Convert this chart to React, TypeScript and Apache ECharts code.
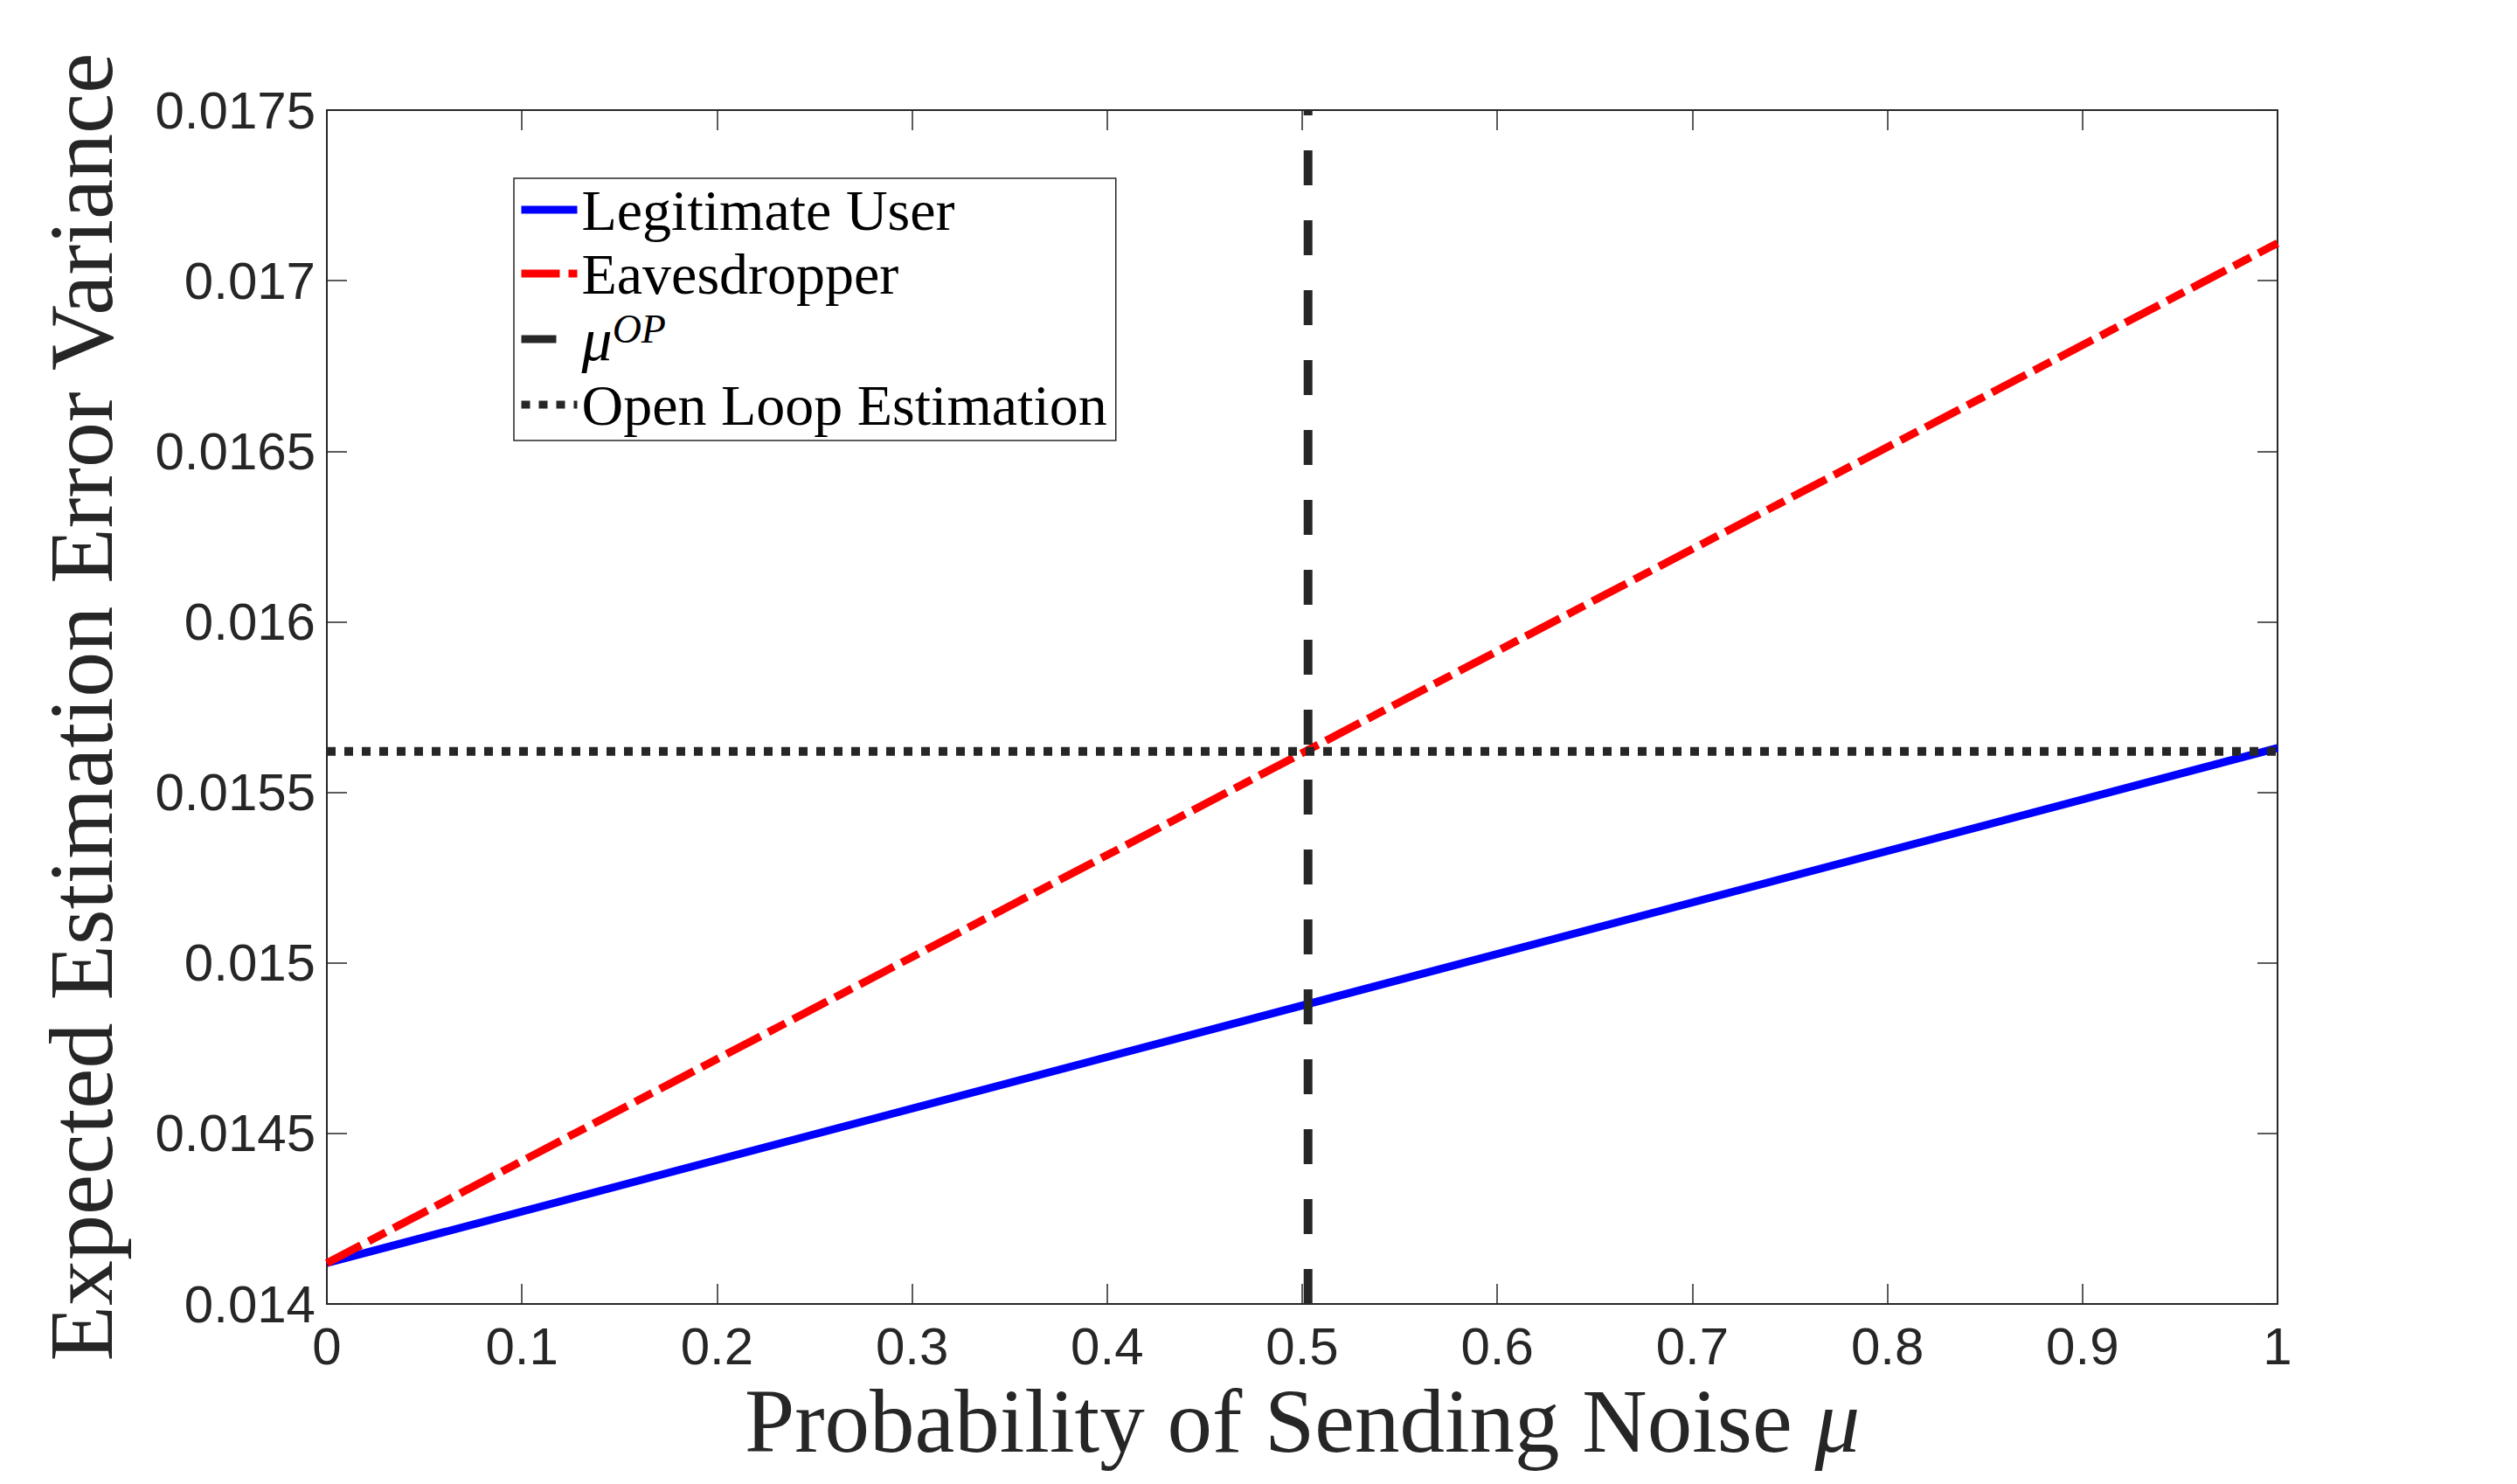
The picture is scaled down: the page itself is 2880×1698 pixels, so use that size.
import React, { useEffect, useRef } from "react";
import * as echarts from "echarts";

const xEnds = [0, 1];
const legitimateUser = [0.01412, 0.01563];
const eavesdropper = [0.01412, 0.01711];
const muOP = 0.503;
const openLoop = 0.01562;
const yRange = [0.014, 0.0175];
const xRange = [0, 1];

const DARK = "#262626";
const SERIF = "'Liberation Serif', 'Times New Roman', serif";
const SANS = "'Liberation Sans', Arial, Helvetica, sans-serif";

export default function App() {
  const ref = useRef<HTMLDivElement>(null);
  useEffect(() => {
    if (!ref.current) return;
    const chart = echarts.init(ref.current, undefined, { renderer: "svg" });
    const axisCommon = {
      type: "value" as const,
      axisLine: { show: true, onZero: false, lineStyle: { color: DARK, width: 2 } },
      axisTick: { show: true, inside: true, length: 23, lineStyle: { color: DARK, width: 1.5 } },
      splitLine: { show: false },
    };
    chart.setOption({
      animation: false,
      backgroundColor: "#ffffff",
      grid: { left: 374, right: 274, top: 126, bottom: 206, containLabel: false },
      xAxis: [
        {
          ...axisCommon,
          min: xRange[0],
          max: xRange[1],
          interval: 0.1,
          position: "bottom",
          axisLabel: { color: DARK, fontFamily: SANS, fontSize: 60, margin: 18 },
          name: "{t|Probability of Sending Noise }{m|μ}",
          nameLocation: "middle",
          nameGap: 76,
          nameTextStyle: {
            color: DARK,
            rich: {
              t: { fontFamily: SERIF, fontSize: 103, color: DARK },
              m: { fontFamily: SERIF, fontSize: 103, fontStyle: "italic", color: DARK },
            },
          },
        },
        {
          ...axisCommon,
          min: xRange[0],
          max: xRange[1],
          interval: 0.1,
          position: "top",
          axisLabel: { show: false },
        },
      ],
      yAxis: [
        {
          ...axisCommon,
          min: yRange[0],
          max: yRange[1],
          interval: 0.0005,
          position: "left",
          axisLabel: { color: DARK, fontFamily: SANS, fontSize: 60, margin: 13 },
          name: "Expected Estimation Error Variance",
          nameLocation: "middle",
          nameRotate: 90,
          nameGap: 230,
          nameTextStyle: { color: DARK, fontFamily: SERIF, fontSize: 104 },
        },
        {
          ...axisCommon,
          min: yRange[0],
          max: yRange[1],
          interval: 0.0005,
          position: "right",
          axisLabel: { show: false },
        },
      ],
      legend: {
        orient: "vertical",
        left: 588,
        top: 204,
        itemWidth: 64,
        itemHeight: 14,
        itemGap: 7,
        padding: [3, 10, 8, 4],
        backgroundColor: "#ffffff",
        borderColor: DARK,
        borderWidth: 1.5,
        lineStyle: { width: 9 },
        itemStyle: { opacity: 0 },
        data: ["Legitimate User", "Eavesdropper", "muOP", "Open Loop Estimation"],
        formatter: (name: string) => (name === "muOP" ? "{mu|μ}{sup|OP}" : name),
        textStyle: {
          fontFamily: SERIF,
          fontSize: 66,
          color: "#000000",
          rich: {
            mu: { fontFamily: SERIF, fontSize: 70, fontStyle: "italic", color: "#000", verticalAlign: "bottom" },
            sup: { fontFamily: SERIF, fontSize: 46, fontStyle: "italic", color: "#000", verticalAlign: "top" },
          },
        },
      },
      series: [
        {
          name: "Legitimate User",
          type: "line",
          showSymbol: false,
          symbol: "none",
          data: xEnds.map((x, i) => [x, legitimateUser[i]]),
          lineStyle: { color: "#0000ff", width: 9, type: "solid" },
          itemStyle: { color: "#0000ff" },
          z: 3,
        },
        {
          name: "Eavesdropper",
          type: "line",
          showSymbol: false,
          symbol: "none",
          data: xEnds.map((x, i) => [x, eavesdropper[i]]),
          lineStyle: { color: "#ff0000", width: 9, type: [44, 10, 22, 10], cap: "butt" },
          itemStyle: { color: "#ff0000" },
          z: 4,
        },
        {
          name: "muOP",
          type: "line",
          showSymbol: false,
          symbol: "none",
          data: [
            [muOP, yRange[0]],
            [muOP, yRange[1]],
          ],
          lineStyle: { color: DARK, width: 10, type: [40, 40], cap: "butt" },
          itemStyle: { color: DARK },
          z: 5,
        },
        {
          name: "Open Loop Estimation",
          type: "line",
          showSymbol: false,
          symbol: "none",
          data: xRange.map((x) => [x, openLoop]),
          lineStyle: { color: DARK, width: 10, type: [10, 10], cap: "butt" },
          itemStyle: { color: DARK },
          z: 6,
        },
      ],
    });
    return () => chart.dispose();
  }, []);
  return (
    <div
      ref={ref}
      style={{ position: "fixed", left: 0, top: 0, width: 2880, height: 1698, background: "#fff" }}
    />
  );
}
